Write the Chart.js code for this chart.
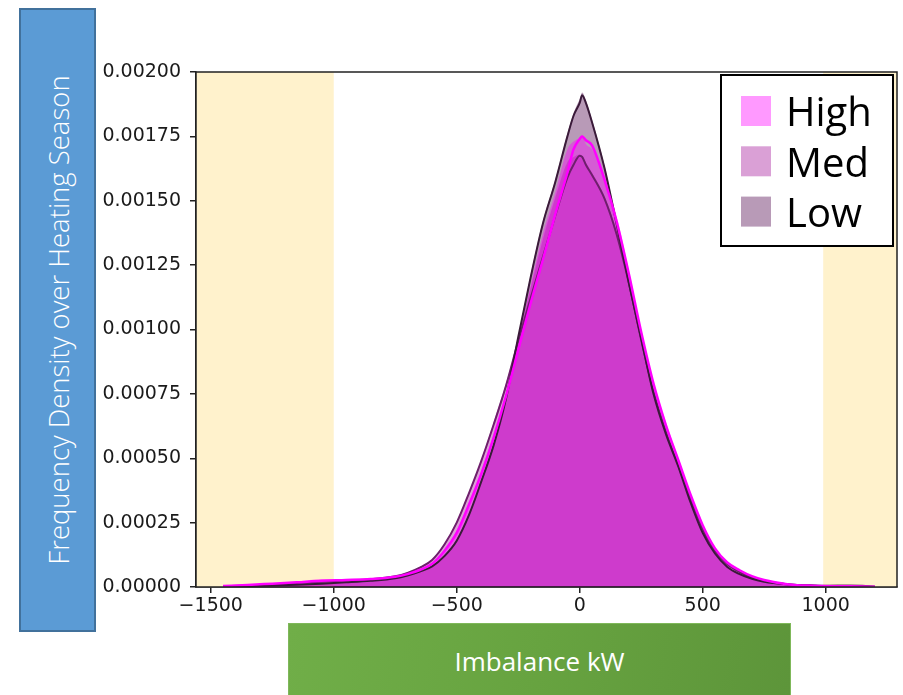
<!DOCTYPE html>
<html>
<head>
<meta charset="utf-8">
<script src="https://cdn.jsdelivr.net/npm/chart.js@4.4.0/dist/chart.umd.min.js"></script>
<style>
  html, body { margin: 0; padding: 0; background: #fff; }
  #wrap { position: relative; width: 903px; height: 695px; overflow: hidden; }
  #chart { position: absolute; left: 0; top: 0; }
  #ylabel {
    position: absolute; left: 19px; top: 8px; width: 73px; height: 620px;
    background: #5b9bd5; border: 2px solid #41719c;
  }
  #ylabel span {
    position: absolute; left: 50%; top: 50%;
    transform: translate(-50%, -50%) rotate(-90deg);
    white-space: nowrap; color: #fff; font: 300 27.5px 'Open Sans', sans-serif;
  }
  #xlabel {
    position: absolute; left: 288px; top: 623px; width: 501px; height: 80px;
    background: linear-gradient(100deg, #70ae48 0%, #67a340 50%, #5d953a 100%);
    border: 1px solid #7fb85a;
  }
  #xlabel span {
    position: absolute; left: 0; right: 0; top: 19px; text-align: center;
    color: #fff; font: 26px 'Open Sans', sans-serif;
  }
</style>
</head>
<body>
<div id="wrap">
  <canvas id="chart" width="903" height="695"></canvas>
  <div id="ylabel"><span>Frequency Density over Heating Season</span></div>
  <div id="xlabel"><span>Imbalance kW</span></div>
</div>
<script>
// bin centres (kW)
const xs = [-1450, -1350, -1250, -1150, -1050, -950, -850, -750, -700, -650, -600, -550, -500, -450,
  -400, -350, -300, -250, -200, -150, -100, -50, -25, 0, 10, 25, 50, 100, 150, 200, 250, 300, 350,
  400, 450, 500, 550, 600, 650, 700, 750, 850, 950, 1050, 1150, 1200];

// histogram heights
const highHist = [0.000005, 0.000006, 0.000012, 0.000022, 0.000030, 0.000026, 0.000030, 0.000042, 0.000048, 0.000070,
  0.000094, 0.000145, 0.000220, 0.000325, 0.000450, 0.000590, 0.000745, 0.000950, 0.001170, 0.001370, 0.001530,
  0.001700, 0.001730, 0.001745, 0.001755, 0.001720, 0.001700, 0.001600, 0.001440, 0.001230, 0.001000, 0.000800,
  0.000640, 0.000505, 0.000365, 0.000245, 0.000155, 0.000098, 0.000062, 0.000040, 0.000026, 0.000011, 0.000004,
  0.000003, 0.000001, 0.000000];
const medHist = [0.000003, 0.000007, 0.000010, 0.000016, 0.000021, 0.000026, 0.000031, 0.000044, 0.000057, 0.000078,
  0.000108, 0.000168, 0.000255, 0.000370, 0.000495, 0.000640, 0.000790, 0.000965, 0.001160, 0.001350, 0.001510,
  0.001650, 0.001670, 0.001680, 0.001675, 0.001650, 0.001610, 0.001520, 0.001380, 0.001190, 0.000970, 0.000770,
  0.000615, 0.000480, 0.000350, 0.000230, 0.000142, 0.000090, 0.000060, 0.000037, 0.000025, 0.000009, 0.000005,
  0.000003, 0.000002, 0.000000];
const lowHist = [0.000002, 0.000004, 0.000006, 0.000010, 0.000014, 0.000019, 0.000025, 0.000035, 0.000046, 0.000062,
  0.000082, 0.000125, 0.000185, 0.000285, 0.000415, 0.000555, 0.000735, 0.000975, 0.001210, 0.001420, 0.001580,
  0.001760, 0.001840, 0.001895, 0.001920, 0.001890, 0.001815, 0.001640, 0.001420, 0.001190, 0.000975, 0.000760,
  0.000605, 0.000475, 0.000335, 0.000215, 0.000132, 0.000080, 0.000052, 0.000033, 0.000021, 0.000011, 0.000007,
  0.000012, 0.000010, 0.000000];

// kde curves
const highKde = [0.000004, 0.000008, 0.000013, 0.000018, 0.000024, 0.000027, 0.000031, 0.000040, 0.000050, 0.000066,
  0.000090, 0.000140, 0.000210, 0.000320, 0.000440, 0.000580, 0.000740, 0.000920, 0.001100, 0.001270, 0.001445,
  0.001610, 0.001700, 0.001740, 0.001750, 0.001735, 0.001715, 0.001584, 0.001420, 0.001215, 0.000990, 0.000790,
  0.000630, 0.000495, 0.000360, 0.000240, 0.000150, 0.000095, 0.000065, 0.000042, 0.000027, 0.000010, 0.000005,
  0.000003, 0.000002, 0.000001];
const medKde = [0.000003, 0.000006, 0.000010, 0.000015, 0.000020, 0.000025, 0.000030, 0.000042, 0.000055, 0.000075,
  0.000105, 0.000165, 0.000250, 0.000365, 0.000490, 0.000630, 0.000780, 0.000955, 0.001120, 0.001280, 0.001440,
  0.001590, 0.001640, 0.001675, 0.001670, 0.001640, 0.001600, 0.001510, 0.001370, 0.001180, 0.000960, 0.000760,
  0.000605, 0.000475, 0.000345, 0.000225, 0.000140, 0.000088, 0.000058, 0.000038, 0.000024, 0.000010, 0.000005,
  0.000003, 0.000002, 0.000001];
const lowKde = [0.000002, 0.000004, 0.000006, 0.000009, 0.000013, 0.000018, 0.000024, 0.000034, 0.000045, 0.000060,
  0.000080, 0.000120, 0.000180, 0.000280, 0.000410, 0.000550, 0.000730, 0.000970, 0.001200, 0.001410, 0.001570,
  0.001750, 0.001830, 0.001880, 0.001910, 0.001880, 0.001805, 0.001630, 0.001410, 0.001180, 0.000965, 0.000750,
  0.000595, 0.000470, 0.000330, 0.000210, 0.000130, 0.000078, 0.000050, 0.000032, 0.000020, 0.000010, 0.000006,
  0.000004, 0.000003, 0.000001];

const seriesNames = ['High', 'Med', 'Low'];
const xTicks = [-1500, -1000, -500, 0, 500, 1000];
const yTicks = [0, 0.00025, 0.0005, 0.00075, 0.001, 0.00125, 0.0015, 0.00175, 0.002];
// shaded ranges at the extremes
const spans = [[-1560, -1000], [990, 1290]];

function pts(vals) {
    return xs.map((x, i) => ({ x: x, y: vals[i] }));
}

const fillColors = ['rgba(255, 0, 255, 0.4)', 'rgba(162, 17, 152, 0.4)', 'rgba(78, 3, 75, 0.4)'];
const lineColors = ['#ff00ff', '#6e1f6c', '#3a1a39'];

const spanPlugin = {
    id: 'spans',
    beforeDatasetsDraw(chart) {
        const { ctx, chartArea, scales } = chart;
        ctx.save();
        ctx.fillStyle = '#fff2cc';
        spans.forEach(s => {
            const a = Math.max(scales.x.getPixelForValue(s[0]), chartArea.left);
            const b = Math.min(scales.x.getPixelForValue(s[1]), chartArea.right);
            ctx.fillRect(a, chartArea.top, b - a, chartArea.bottom - chartArea.top);
        });
        ctx.restore();
    }
};

const framePlugin = {
    id: 'frame',
    afterDatasetsDraw(chart) {
        const { ctx, chartArea } = chart;
        ctx.save();
        ctx.strokeStyle = '#222';
        ctx.lineWidth = 1.5;
        ctx.strokeRect(chartArea.left, chartArea.top, chartArea.right - chartArea.left, chartArea.bottom - chartArea.top);
        ctx.restore();
    }
};

const boxLegend = {
    id: 'boxLegend',
    afterDraw(chart) {
        const { ctx, chartArea } = chart;
        const w = 172, h = 171;
        const left = chartArea.right - 4 - w, top = chartArea.top + 3;
        ctx.save();
        ctx.fillStyle = '#fff';
        ctx.fillRect(left, top, w, h);
        ctx.lineWidth = 2;
        ctx.strokeStyle = '#000';
        ctx.strokeRect(left, top, w, h);
        ctx.font = '40px "Open Sans"';
        ctx.textBaseline = 'middle';
        chart.data.datasets.slice(0, 3).forEach((d, i) => {
            const cy = top + 36 + i * 50.3;
            ctx.fillStyle = d.backgroundColor;
            ctx.fillRect(left + 20, cy - 15, 30, 30);
            ctx.fillStyle = '#000';
            ctx.fillText(d.label, left + 65, cy + 4);
        });
        ctx.restore();
    }
};

const hists = [highHist, medHist, lowHist];
const kdes = [highKde, medKde, lowKde];

const datasets = [];
hists.forEach((h, i) => {
    datasets.push({
        label: seriesNames[i],
        data: pts(h),
        backgroundColor: fillColors[i],
        borderWidth: 0,
        pointRadius: 0,
        fill: 'origin',
        cubicInterpolationMode: 'monotone',
        order: 4 + i
    });
});
const lineOrder = [1, 3, 2];
kdes.forEach((k, i) => {
    datasets.push({
        label: seriesNames[i] + ' kde',
        data: pts(k),
        borderColor: lineColors[i],
        borderWidth: i === 0 ? 2.5 : 2,
        pointRadius: 0,
        fill: false,
        cubicInterpolationMode: 'monotone',
        order: lineOrder[i]
    });
});

const tickFont = { family: 'DejaVu Sans', size: 19 };

new Chart(document.getElementById('chart').getContext('2d'), {
    type: 'line',
    data: { datasets: datasets },
    options: {
        responsive: false,
        animation: false,
        devicePixelRatio: 1,
        layout: { padding: { left: 0, top: 72, right: 6, bottom: 0 } },
        plugins: {
            legend: { display: false },
            tooltip: { enabled: false }
        },
        scales: {
            x: {
                type: 'linear',
                min: -1560,
                max: 1290,
                afterFit(scale) { scale.height = 108; },
                afterBuildTicks(scale) { scale.ticks = xTicks.map(v => ({ value: v })); },
                grid: { drawOnChartArea: false, drawTicks: true, tickLength: 6, color: '#222', lineWidth: 1.5 },
                border: { display: true, color: '#222', width: 1.5 },
                ticks: {
                    font: tickFont,
                    color: '#1a1a1a',
                    padding: 2,
                    maxRotation: 0,
                    callback: v => v < 0 ? '\u2212' + Math.abs(v) : String(v)
                }
            },
            y: {
                min: 0,
                max: 0.002,
                afterFit(scale) { scale.width = 196; },
                afterBuildTicks(scale) { scale.ticks = yTicks.map(v => ({ value: v })); },
                grid: { drawOnChartArea: false, drawTicks: true, tickLength: 6, color: '#222', lineWidth: 1.5 },
                border: { display: true, color: '#222', width: 1.5 },
                ticks: {
                    font: tickFont,
                    color: '#1a1a1a',
                    padding: 9,
                    callback: v => v.toFixed(5)
                }
            }
        }
    },
    plugins: [spanPlugin, framePlugin, boxLegend]
});
</script>
</body>
</html>
